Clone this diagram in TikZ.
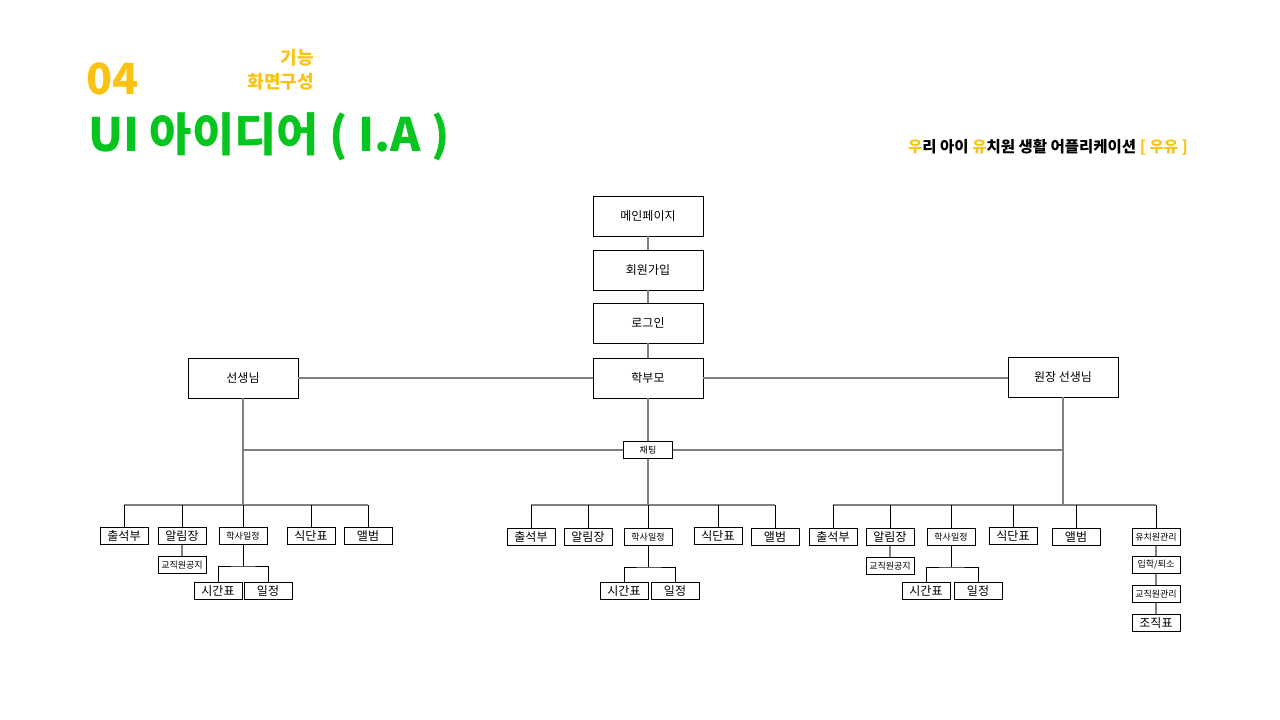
\documentclass[tikz,border=0pt]{standalone}
\usepackage{fontspec}
\setmainfont{Noto Sans CJK KR}
\usetikzlibrary{positioning,calc}
\definecolor{uyellow}{RGB}{250,195,20}
\definecolor{ugreen}{RGB}{8,196,30}
\definecolor{linegray}{RGB}{128,128,128}

\begin{document}
\begin{tikzpicture}
            [x=1pt,y=-1pt,
            every node/.style={inner sep=0pt,font=\fontsize{12}{13}\selectfont},
            bigbox/.style={draw,line width=0.9pt,minimum width=110pt,minimum height=40pt},
            smallbox/.style={draw,line width=0.9pt,minimum width=48pt,minimum height=17pt},
            tiny/.style={font=\fontsize{9}{10}\selectfont},
            link/.style={draw=linegray,line width=1.6pt},
            drop/.style={draw=black,line width=0.8pt}
            ]
            \useasboundingbox (0,0) rectangle (1280,720);
            % header
            \node[anchor=west,text=uyellow,font=\fontsize{43}{44}\selectfont\bfseries] (num) at (86,79) {04};
            \node[anchor=east,text=uyellow,font=\fontsize{18}{20}\selectfont\bfseries] (kw1) at (314,58) {기능};
            \node[anchor=east,text=uyellow,font=\fontsize{18}{20}\selectfont\bfseries] (kw2) at (314,82) {화면구성};
            \node[anchor=west,text=ugreen,font=\fontsize{46}{48}\selectfont\bfseries] (title) at (88,137) {UI 아이디어 ( I.A )};
            \node[anchor=east,font=\fontsize{15.5}{18}\selectfont\bfseries] (sub) at (1188,147)
              {\textcolor{uyellow}{우}리 아이 \textcolor{uyellow}{유}치원 생활 어플리케이션 \textcolor{uyellow}{[ 우유 ]}};

            % main chain
            \node[bigbox] (main) at (648,216) {메인페이지};
            \node[bigbox] (join) at (648,270) {회원가입};
            \node[bigbox] (login) at (648,323) {로그인};
            \node[bigbox] (parent) at (648,378) {학부모};
            \node[bigbox] (teacher) at (243,378) {선생님};
            \node[bigbox] (director) at (1063,377) {원장 선생님};
            \node[smallbox,minimum width=49pt,tiny] (chat) at (648,450) {채팅};
            \draw[link] (main) -- (join);
            \draw[link] (join) -- (login);
            \draw[link] (login) -- (parent);
            \draw[link] (teacher) -- (parent);
            \draw[link] (parent.east) -- (parent.east-|director.west);
            \coordinate (tb) at (243,505);
            \coordinate (pb) at (648,505);
            \coordinate (db) at (1063,505);
            \draw[link] (teacher) -- (tb);
            \draw[link] (parent) -- (chat);
            \draw[link] (chat) -- (pb);
            \draw[link] (director) -- (db);
            \draw[link] (tb|-chat) -- (chat);
            \draw[link] (chat) -- (director|-chat);

            % teacher group
            \node[smallbox] (t1) at (124,536) {출석부};
            \node[smallbox] (t2) at (182,536) {알림장};
            \node[smallbox,tiny] (t3) at (243,536) {학사일정};
            \node[smallbox] (t4) at (311,536) {식단표};
            \node[smallbox] (t5) at (368,536) {앨범};
            \node[smallbox,tiny] (t2a) at (182,565) {교직원공지};
            \node[smallbox] (t3a) at (218,591) {시간표};
            \node[smallbox] (t3b) at (268,591) {일정};
            \draw[link] (t1|-tb) -- (t5|-tb);
            \foreach \n in {t1,t2,t3,t4,t5}
              \draw[drop] (\n|-tb) -- (\n);
            \draw[link] (t2) -- (t2a);
            \coordinate (tj) at (243,566);
            \draw[drop] (t3) -- (tj);
            \draw[drop] (t3a) |- (tj) -| (t3b);

            % parent group
            \node[smallbox] (p1) at (531,537) {출석부};
            \node[smallbox] (p2) at (588,537) {알림장};
            \node[smallbox,tiny] (p3) at (648,537) {학사일정};
            \node[smallbox] (p4) at (718,536) {식단표};
            \node[smallbox] (p5) at (775,537) {앨범};
            \node[smallbox] (p3a) at (624,591) {시간표};
            \node[smallbox] (p3b) at (675,591) {일정};
            \draw[link] (p1|-pb) -- (p5|-pb);
            \foreach \n in {p1,p2,p3,p4,p5}
              \draw[drop] (\n|-pb) -- (\n);
            \coordinate (pj) at (648,567);
            \draw[drop] (p3) -- (pj);
            \draw[drop] (p3a) |- (pj) -| (p3b);

            % director group
            \node[smallbox] (d1) at (833,537) {출석부};
            \node[smallbox] (d2) at (890,537) {알림장};
            \node[smallbox,tiny] (d3) at (951,537) {학사일정};
            \node[smallbox] (d4) at (1013,536) {식단표};
            \node[smallbox] (d5) at (1076,537) {앨범};
            \node[smallbox,tiny] (d6) at (1156,537) {유치원관리};
            \node[smallbox,tiny] (d2a) at (890,566) {교직원공지};
            \node[smallbox] (d3a) at (926,591) {시간표};
            \node[smallbox] (d3b) at (978,591) {일정};
            \node[smallbox,tiny] (d6a) at (1156,565) {입학/퇴소};
            \node[smallbox,tiny] (d6b) at (1156,594) {교직원관리};
            \node[smallbox] (d6c) at (1156,623) {조직표};
            \draw[link] (d1|-db) -- (d6|-db);
            \foreach \n in {d1,d2,d3,d4,d5,d6}
              \draw[drop] (\n|-db) -- (\n);
            \draw[link] (d2) -- (d2a);
            \coordinate (dj) at (951,567);
            \draw[drop] (d3) -- (dj);
            \draw[drop] (d3a) |- (dj) -| (d3b);
            \draw[link] (d6) -- (d6a);
            \draw[link] (d6a) -- (d6b);
            \draw[link] (d6b) -- (d6c);
\end{tikzpicture}
\end{document}
